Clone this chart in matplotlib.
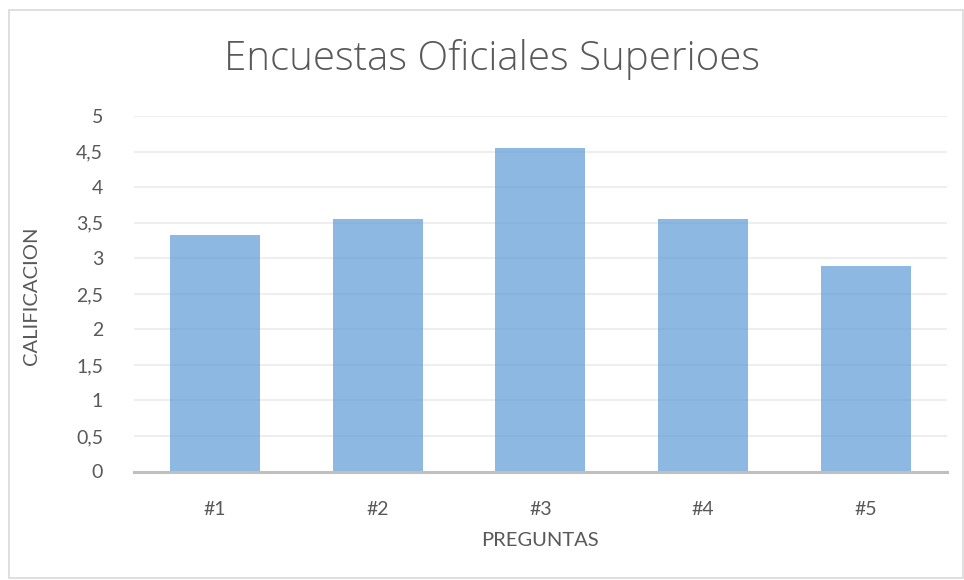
import matplotlib
matplotlib.use("Agg")
import matplotlib.pyplot as plt
from matplotlib.patches import Rectangle
from matplotlib.ticker import MultipleLocator, FuncFormatter

categories = ["#1", "#2", "#3", "#4", "#5"]
values = [3.33, 3.56, 4.56, 3.56, 2.89]

plt.rcParams['font.family'] = ['Lato', 'DejaVu Sans']
txt = '#595959'

fig = plt.figure(figsize=(9.64, 5.80), dpi=100)
fig.patches.append(Rectangle((9/964, 2/580), 954/964, 568/580, transform=fig.transFigure,
                             fill=False, edgecolor='#D9D9D9', linewidth=1.2))
ax = fig.add_axes([133.6/964, 108.5/580, 813.4/964, 355.2/580])
x = range(len(categories))
ax.bar(x, values, width=0.553, color='#5B9BD5', alpha=0.7, zorder=3)
ax.set_xlim(-0.5, len(categories) - 0.5)
ax.set_ylim(0, 5)
ax.yaxis.set_major_locator(MultipleLocator(0.5))
ax.yaxis.set_major_formatter(FuncFormatter(lambda v, p: f"{v:g}".replace('.', ',')))
ax.set_xticks(list(x))
ax.set_xticklabels(categories)
ax.grid(axis='y', color='#EBEBEB', linewidth=1.2, zorder=0)
for s in ['top', 'right', 'left']:
    ax.spines[s].set_visible(False)
ax.spines['bottom'].set_color('#BFBFBF')
ax.spines['bottom'].set_linewidth(2.2)
ax.spines['bottom'].set_zorder(4)
ax.tick_params(axis='both', length=0, colors=txt, labelsize=14)
ax.tick_params(axis='y', pad=22)
ax.tick_params(axis='x', pad=21)
fig.text(32/964, 1 - 296/580, 'CALIFICACION', rotation=90, ha='center', va='center', color=txt, fontsize=14.5)
fig.text(540/964, 1 - 540/580, 'PREGUNTAS', ha='center', va='center', color=txt, fontsize=14.5)
fig.text(492/964, 1 - 60/580, 'Encuestas Oficiales Superioes', ha='center', va='center', color=txt,
         fontsize=29, family=['Open Sans', 'DejaVu Sans'], fontweight='light')
fig.savefig('out.png', dpi=100, facecolor='white')
